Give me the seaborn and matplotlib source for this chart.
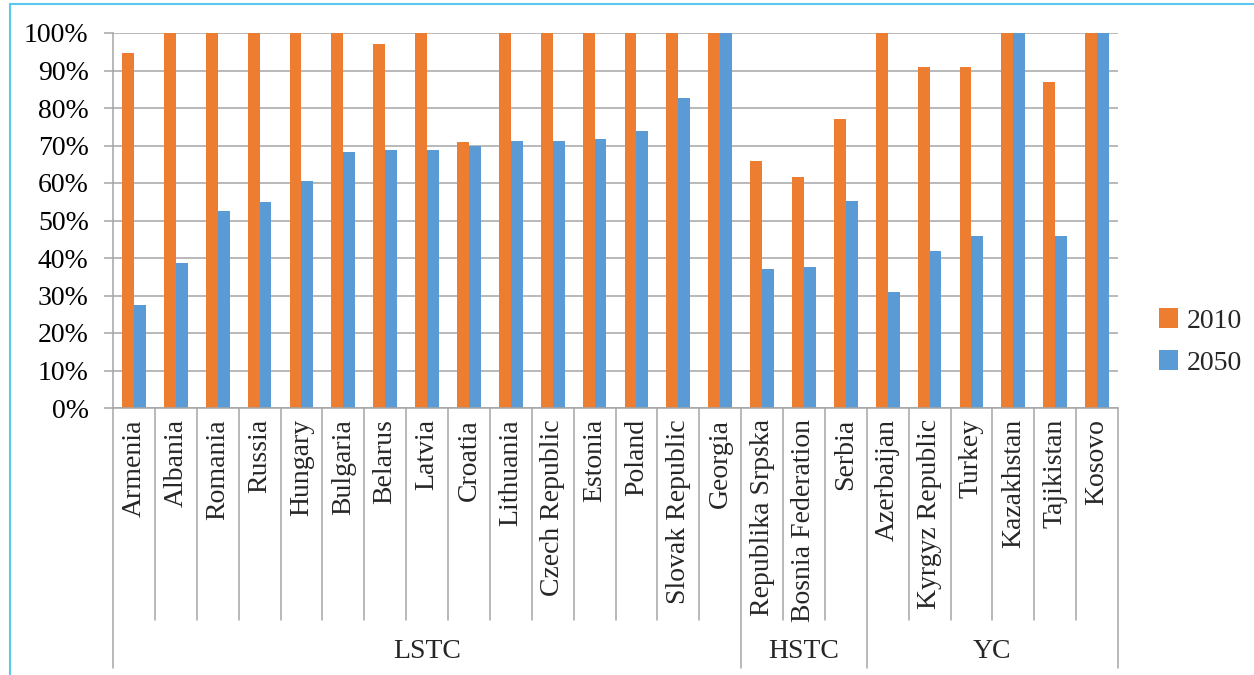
import pandas as pd
import matplotlib.pyplot as plt
import seaborn as sns
from matplotlib.lines import Line2D
from matplotlib.ticker import PercentFormatter

countries = ['Armenia', 'Albania', 'Romania', 'Russia', 'Hungary', 'Bulgaria', 'Belarus',
             'Latvia', 'Croatia', 'Lithuania', 'Czech Republic', 'Estonia', 'Poland',
             'Slovak Republic', 'Georgia', 'Republika Srpska', 'Bosnia Federation', 'Serbia',
             'Azerbaijan', 'Kyrgyz Republic', 'Turkey', 'Kazakhstan', 'Tajikistan', 'Kosovo']
groups = ['LSTC', 'HSTC', 'YC']
group_sizes = [15, 3, 6]
share_2010 = [0.947, 1.0, 1.0, 1.0, 1.0, 1.0, 0.972, 1.0, 0.709, 1.0, 1.0, 1.0, 1.0, 1.0, 1.0,
              0.660, 0.616, 0.771, 1.0, 0.909, 0.909, 1.0, 0.869, 1.0]
share_2050 = [0.276, 0.386, 0.525, 0.549, 0.605, 0.683, 0.688, 0.688, 0.700, 0.711, 0.712,
              0.717, 0.738, 0.828, 1.0, 0.370, 0.376, 0.551, 0.309, 0.419, 0.459, 1.0, 0.460, 1.0]
years = ['2010', '2050']

df = pd.DataFrame({
    'country': countries * 2,
    'year': [years[0]] * len(countries) + [years[1]] * len(countries),
    'share': share_2010 + share_2050,
})

sns.set_theme(style='white')
plt.rcParams['font.family'] = ['Liberation Serif', 'DejaVu Serif']

W, H = 1254, 675
fs = 20
fig = plt.figure(figsize=(W / 100, H / 100), dpi=100)
ax = fig.add_axes([113 / W, 1 - 408 / H, (1118 - 113) / W, (408 - 33) / H])

sns.barplot(data=df, x='country', y='share', hue='year', palette=['#ED7D31', '#5B9BD5'],
            width=0.57, saturation=1, edgecolor='none', ax=ax)

grid_c = '#a6a6a6'
ax.set_ylim(0, 1)
ax.set_yticks([i / 10 for i in range(11)])
ax.yaxis.set_major_formatter(PercentFormatter(1.0, decimals=0))
ax.yaxis.grid(True, color=grid_c, lw=1.1)
ax.set_axisbelow(True)
ax.set_xlabel('')
ax.set_ylabel('')
for s in ['top', 'right']:
    ax.spines[s].set_visible(False)
for s in ['left', 'bottom']:
    ax.spines[s].set_color(grid_c)
    ax.spines[s].set_linewidth(1.1)

ax.tick_params(axis='y', left=True, length=6.5, width=1.1, color=grid_c, pad=11, labelsize=fs,
               labelcolor='black')
ax.set_xticks(range(len(countries)))
ax.set_xticklabels(countries, rotation=90, fontsize=fs, va='top', ha='center')
ax.tick_params(axis='x', length=0, pad=8)

# category separators and group labels under the axis
short_y = -(620 - 408) / 375
long_y = -(668 - 408) / 375
label_y = -(652 - 408) / 375
trans = ax.get_xaxis_transform()
bounds = [0]
for n in group_sizes:
    bounds.append(bounds[-1] + n)
for i in range(len(countries) + 1):
    y_end = long_y if i in bounds else short_y
    ax.plot([i - 0.5, i - 0.5], [0, y_end], color=grid_c, lw=1.1, transform=trans, clip_on=False)
for g, a, b in zip(groups, bounds[:-1], bounds[1:]):
    ax.text((a + b - 1) / 2, label_y, g, transform=trans, ha='center', va='center', fontsize=fs)
ax.set_xlim(-0.5, len(countries) - 0.5)

leg = ax.legend(loc='center left', bbox_to_anchor=(1134 / W, 1 - 342 / H),
                bbox_transform=fig.transFigure, frameon=False, fontsize=fs,
                handlelength=0.7, handleheight=0.7, handletextpad=0.3, labelspacing=0.6)

# outer light-blue frame
frame_c = '#5bc8f0'
fig.add_artist(Line2D([10 / W, 10 / W], [0, 1 - 4 / H], color=frame_c, lw=1.5))
fig.add_artist(Line2D([10 / W, 1], [1 - 4 / H, 1 - 4 / H], color=frame_c, lw=1.5))

fig.savefig('out.png', dpi=100)
